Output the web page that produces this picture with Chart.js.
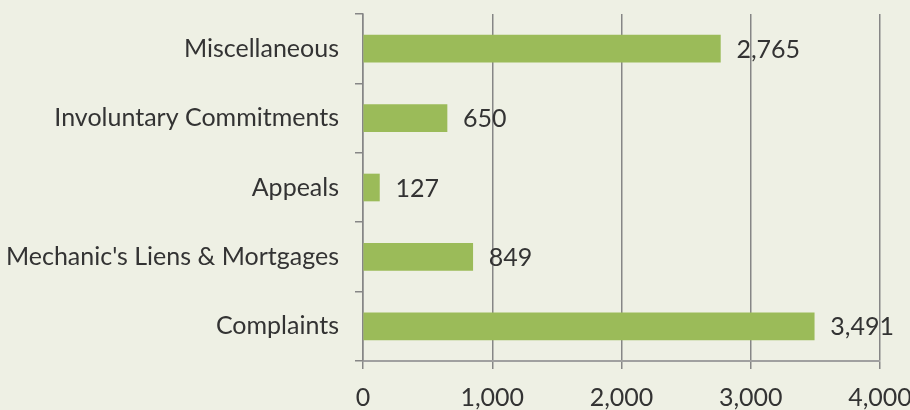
<!DOCTYPE html>
<html>
<head>
<meta charset="utf-8">
<script src="https://cdn.jsdelivr.net/npm/chart.js@4.4.0/dist/chart.umd.min.js"></script>
<style>
  html, body { margin: 0; padding: 0; background: #eef0e4; }
  #wrap { width: 910px; height: 410px; }
</style>
</head>
<body>
<div id="wrap"><canvas id="grafico" width="910" height="410"></canvas></div>
<script>
// --- Dados do gráfico ---
const categorias = [
  'Miscellaneous',
  'Involuntary Commitments',
  'Appeals',
  "Mechanic's Liens & Mortgages",
  'Complaints'
];
const valores = [2765, 650, 127, 849, 3491];
const marcasEixoX = [0, 1000, 2000, 3000, 4000];

const corBarra = '#9bbb59';
const corTexto = '#333333';
const fonte = { family: 'Lato, "Open Sans", sans-serif', size: 25 };

// Desenha os rótulos de valor ao lado de cada barra
const rotulosValor = {
  id: 'rotulosValor',
  afterDatasetsDraw(chart) {
    const ctx = chart.ctx;
    const meta = chart.getDatasetMeta(0);
    ctx.save();
    ctx.font = `${fonte.size}px ${fonte.family}`;
    ctx.fillStyle = corTexto;
    ctx.textAlign = 'left';
    ctx.textBaseline = 'middle';
    meta.data.forEach((barra, i) => {
      ctx.fillText(valores[i].toLocaleString('en-US'), barra.x + 16, barra.y + 1);
    });
    ctx.restore();
  }
};

new Chart(document.getElementById('grafico'), {
  type: 'bar',
  data: {
    labels: categorias,
    datasets: [{
      data: valores,
      backgroundColor: corBarra,
      barThickness: 27
    }]
  },
  options: {
    indexAxis: 'y',
    responsive: false,
    animation: false,
    layout: { padding: { top: 14, right: 30, left: 0, bottom: 0 } },
    plugins: {
      legend: { display: false },
      tooltip: { enabled: false }
    },
    scales: {
      x: {
        min: 0,
        max: 4000,
        afterBuildTicks: (eixo) => { eixo.ticks = marcasEixoX.map(v => ({ value: v })); },
        afterFit: (eixo) => { eixo.height = 49; eixo.paddingLeft = 0; eixo.paddingRight = 0; },
        ticks: {
          color: corTexto,
          font: fonte,
          padding: 14,
          maxRotation: 0,
          callback: (v) => v.toLocaleString('en-US')
        },
        grid: {
          color: '#868686',
          lineWidth: 1.5,
          tickLength: 8
        },
        border: { color: '#a0a0a0', width: 2 }
      },
      y: {
        afterFit: (eixo) => { eixo.width = 363; eixo.paddingTop = 0; eixo.paddingBottom = 0; },
        ticks: {
          color: corTexto,
          font: fonte,
          padding: 16
        },
        grid: {
          drawOnChartArea: false,
          color: '#868686',
          lineWidth: 1.5,
          tickLength: 8
        },
        border: { color: '#868686', width: 1.5 }
      }
    }
  },
  plugins: [rotulosValor]
});
</script>
</body>
</html>
